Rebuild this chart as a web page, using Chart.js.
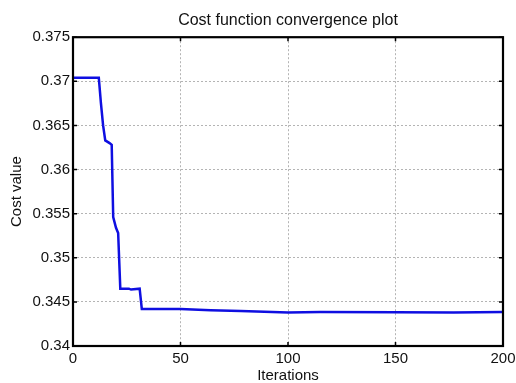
<!DOCTYPE html>
<html>
<head>
<meta charset="utf-8">
<script src="https://cdn.jsdelivr.net/npm/chart.js@4"></script>
<style>
  body { margin: 0; background: #fff; }
  #wrap { width: 516px; height: 383px; }
</style>
</head>
<body>
<div id="wrap"><canvas id="convChart" width="516" height="383"></canvas></div>
<script>
// iteration numbers and cost values
const iterations = [0, 12, 13, 14, 15, 17, 18, 18.7, 20, 21, 22, 26, 27, 31, 32, 50, 64, 78, 100, 115, 150, 177, 200];
const costValues = [0.3704, 0.3704, 0.3675, 0.3650, 0.3633, 0.3630, 0.3628, 0.3546, 0.3534, 0.3528, 0.3465, 0.3465, 0.3464, 0.3465, 0.3442, 0.3442, 0.34405, 0.34397, 0.3438, 0.34385, 0.34383, 0.34379, 0.34385];

const xTicks = [0, 50, 100, 150, 200];
const yTicks = [0.34, 0.345, 0.35, 0.355, 0.36, 0.365, 0.37, 0.375];

const FONT = "'Liberation Sans', Arial, Helvetica, sans-serif";

// Matlab-like box with inward tick marks
const boxPlugin = {
  id: "boxPlugin",
  afterDraw(chart) {
    const { ctx, chartArea: a, scales } = chart;
    ctx.save();
    ctx.strokeStyle = "#000";
    ctx.lineWidth = 1.5;
    ctx.beginPath();
    xTicks.forEach((t) => {
      const px = scales.x.getPixelForValue(t);
      ctx.moveTo(px, a.bottom); ctx.lineTo(px, a.bottom - 4);
      ctx.moveTo(px, a.top); ctx.lineTo(px, a.top + 4);
    });
    yTicks.forEach((t) => {
      const py = scales.y.getPixelForValue(t);
      ctx.moveTo(a.left, py); ctx.lineTo(a.left + 4, py);
      ctx.moveTo(a.right, py); ctx.lineTo(a.right - 4, py);
    });
    ctx.stroke();
    ctx.lineWidth = 2.2;
    ctx.strokeRect(a.left, a.top, a.right - a.left, a.bottom - a.top);
    ctx.restore();
  },
};

new Chart(document.getElementById("convChart").getContext("2d"), {
  type: "line",
  data: {
    datasets: [
      {
        data: iterations.map((it, i) => ({ x: it, y: costValues[i] })),
        borderColor: "rgb(15,15,225)",
        borderWidth: 2.5,
        pointRadius: 0,
        tension: 0,
        fill: false,
      },
    ],
  },
  options: {
    responsive: false,
    animation: false,
    layout: { padding: { top: 0, left: 0, bottom: 0, right: 13 } },
    plugins: {
      legend: { display: false },
      tooltip: { enabled: false },
      title: {
        display: true,
        fullSize: false,
        text: "Cost function convergence plot",
        color: "#111",
        font: { family: FONT, size: 16, weight: "normal", lineHeight: 1.2 },
        padding: { top: 11, bottom: 7 },
      },
    },
    scales: {
      x: {
        type: "linear",
        min: 0,
        max: 200,
        afterBuildTicks: (s) => { s.ticks = xTicks.map((v) => ({ value: v })); },
        afterFit: (s) => { s.height = 37; s.paddingLeft = 0; s.paddingRight = 0; },
        grid: { color: "#b4b4b4", lineWidth: 1, drawTicks: false },
        border: { display: false, dash: [2, 2] },
        ticks: { color: "#111", padding: 4, font: { family: FONT, size: 15 }, maxRotation: 0 },
        title: {
          display: true,
          text: "Iterations",
          color: "#111",
          font: { family: FONT, size: 15, lineHeight: 1 },
          padding: { top: 0, bottom: 0 },
        },
      },
      y: {
        type: "linear",
        min: 0.34,
        max: 0.375,
        afterBuildTicks: (s) => { s.ticks = yTicks.map((v) => ({ value: v })); },
        afterFit: (s) => { s.width = 73; s.paddingTop = 0; s.paddingBottom = 0; },
        grid: { color: "#b4b4b4", lineWidth: 1, drawTicks: false },
        border: { display: false, dash: [2, 2] },
        ticks: {
          color: "#111",
          padding: 3,
          font: { family: FONT, size: 15 },
          callback: (v) => String(+v.toFixed(3)),
        },
        title: {
          display: true,
          text: "Cost value",
          color: "#111",
          font: { family: FONT, size: 15, lineHeight: 1.2 },
          padding: { top: 8, bottom: 0 },
        },
      },
    },
  },
  plugins: [boxPlugin],
});
</script>
</body>
</html>
